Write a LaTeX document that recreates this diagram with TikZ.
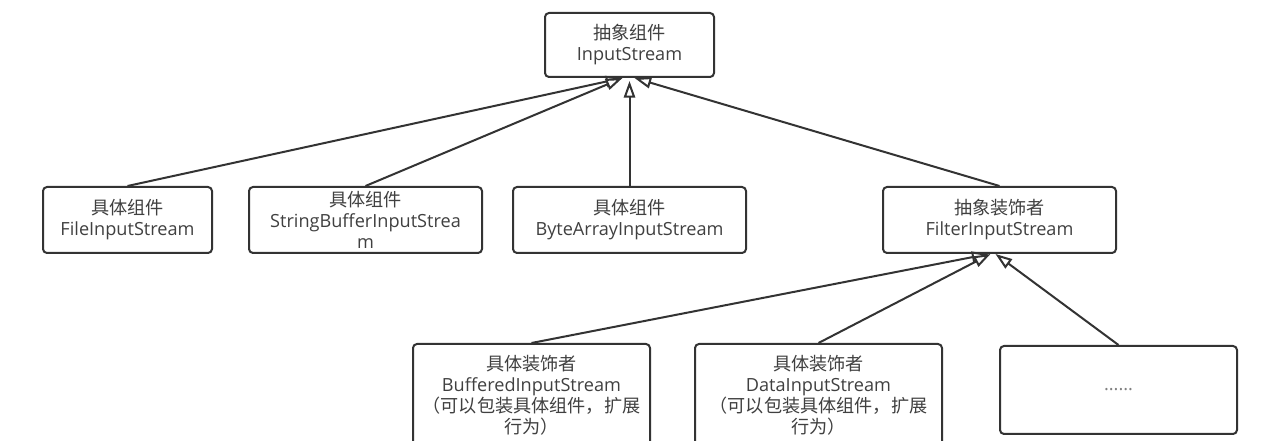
\documentclass[tikz,border=0pt]{standalone}
\usepackage{fontspec}
\setmainfont{Open Sans}
\newfontfamily\cjk{Noto Sans CJK SC}
\usetikzlibrary{arrows.meta,calc}
\definecolor{ln}{HTML}{333333}
\definecolor{tx}{HTML}{404040}
\tikzset{
  box/.style={draw=ln, line width=1.5pt, rounded corners=3pt, fill=white, align=center,
    inner sep=0pt, text=tx, font=\fontsize{13.6}{15.75}\selectfont},
  sz/.style 2 args={minimum width=#1*0.75pt, minimum height=#2*0.75pt},
  arr/.style={draw=ln, line width=1.5pt, -{Triangle[open, length=12.5pt, width=8.5pt, fill=white]}}
}
\begin{document}
\begin{tikzpicture}[x=0.75pt, y=-0.75pt]
\useasboundingbox (0,0) rectangle (1268,441);
\clip (0,0) rectangle (1268,441);
\fill[white] (0,0) rectangle (1268,441);
\node[box, sz={169}{64}] (top) at (629.5,45) {{\cjk 抽象组件}\\InputStream};
\node[box, sz={169}{66}] (file) at (127.5,220) {{\cjk 具体组件}\\FileInputStream};
\node[box, sz={233}{66}] (sb) at (365.5,220) {{\cjk 具体组件}\\StringBufferInputStrea\\m};
\node[box, sz={233}{66}] (ba) at (629.5,220) {{\cjk 具体组件}\\ByteArrayInputStream};
\node[box, sz={233}{66}] (filter) at (999.5,220) {{\cjk 抽象装饰者}\\FilterInputStream};
\node[box, sz={237}{103}] (buf) at (531.5,395.5) {{\cjk 具体装饰者}\\BufferedInputStream\\{\cjk （可以包装具体组件，扩展}\\{\cjk 行为）}};
\node[box, sz={247}{103}] (data) at (818.5,395.5) {{\cjk 具体装饰者}\\DataInputStream\\{\cjk （可以包装具体组件，扩展}\\{\cjk 行为）}};
\node[box, sz={237}{88}, text=gray] (dots) at (1118.5,390) {......};
\coordinate (t1) at ($(top.south)+(-7,0)$);
\coordinate (t2) at ($(top.south)+(0,3)$);
\coordinate (t3) at ($(top.south)+(5,0)$);
\coordinate (f1) at ($(filter.south)+(-11,0)$);
\coordinate (f2) at ($(filter.south)+(-9,0)$);
\coordinate (f3) at ($(filter.south)+(-4,0)$);
\draw[arr] (file.north) -- (t1);
\draw[arr] (sb.north) -- (t1);
\draw[arr] (ba.north) -- (t2);
\draw[arr] (filter.north) -- (t3);
\draw[arr] (buf.north) -- (f1);
\draw[arr] (data.north) -- (f2);
\draw[arr] (dots.north) -- (f3);
\end{tikzpicture}
\end{document}
